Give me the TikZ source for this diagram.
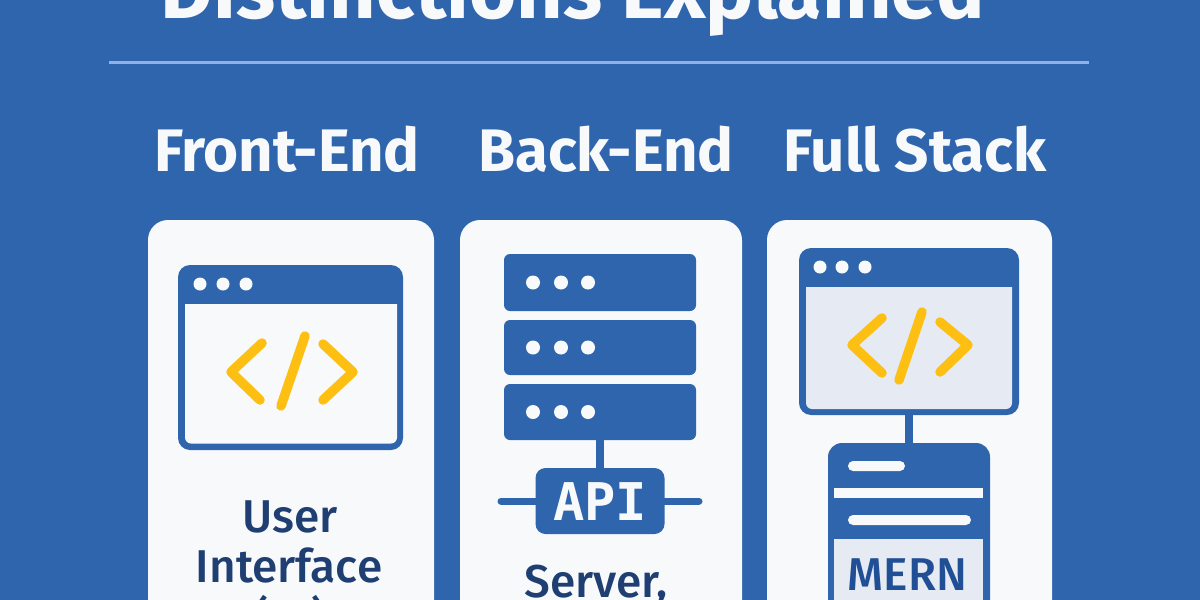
\documentclass[tikz,border=0pt]{standalone}
\usepackage{fontspec}
\usepackage{xcolor}
\setmainfont{Fira Sans}
\newfontfamily\apifont{DejaVu Sans Mono}
\newfontfamily\cardfont{Fira Sans Medium}
\definecolor{pagebg}{HTML}{2F65AC}
\definecolor{cardbg}{HTML}{F8F9FA}
\definecolor{panebg}{HTML}{E6EAF2}
\definecolor{rulebl}{HTML}{8FB2E6}
\definecolor{codeyl}{HTML}{FDBF12}
\definecolor{inkbl}{HTML}{1F3F73}
\definecolor{mernbl}{HTML}{214F96}
\tikzset{
  x=1pt,y=-1pt,
  cardbox/.style={fill=cardbg,rounded corners=20pt,inner sep=0pt,minimum height=420pt},
  bluebox/.style={fill=pagebg,inner sep=0pt,outer sep=0pt},
  dotnode/.style={circle,fill=cardbg,inner sep=0pt},
  codeline/.style={draw=codeyl,line width=9.5pt,line cap=round,line join=round},
  wire/.style={draw=pagebg,line width=8pt},
  pill/.style={fill=cardbg,rounded corners=5pt,inner sep=0pt,minimum height=10pt},
  headtext/.style={text=cardbg,anchor=base,inner sep=0pt,font=\fontsize{60}{60}\selectfont\bfseries},
  cardtext/.style={text=inkbl,anchor=base,inner sep=0pt,font=\cardfont\fontsize{46}{46}\selectfont},
}
\begin{document}
\begin{tikzpicture}
\useasboundingbox (0,0) rectangle (1200,600);
\clip (0,0) rectangle (1200,600);
\fill[pagebg] (0,0) rectangle (1200,600);
\node[text=cardbg,anchor=base,inner sep=0pt,font=\fontsize{81}{81}\selectfont\bfseries] (title) at (573,18) {Distinctions Explained};
\coordinate (ruleL) at (109,62);
\coordinate (ruleR) at (1089,62);
\draw[rulebl,line width=3pt] (ruleL) -- (ruleR);
%%
\node[headtext] (front) at (287,171) {Front-End};
\node[headtext] (back) at (606,171) {Back-End};
\node[headtext] (full) at (915,171) {Full Stack};
%%
\node[cardbox,minimum width=286pt] (card1) at (291,430) {};
\node[cardbox,minimum width=282pt] (card2) at (601,430) {};
\node[cardbox,minimum width=285pt] (card3) at (909.5,430) {};
%% front-end window
\node[bluebox,rounded corners=12pt,minimum width=225pt,minimum height=185pt] (win1) at (290.5,357.5) {};
\fill[cardbg] (185,304) -- (397,304) [rounded corners=6pt] -- (397,443.5) -- (185,443.5) [sharp corners] -- cycle;
\foreach \i/\dx in {1/200,2/223,3/246} {
  \node[dotnode,minimum size=13pt] (win1dot\i) at (\dx,284) {};
}
\draw[codeline] (262,343) -- (231,372) -- (260,400);
\draw[codeline] (305,336) -- (281,406);
\draw[codeline] (323,344) -- (353,372) -- (323,400);
\node[cardtext] (user) at (290,532) {User};
\node[cardtext] (iface) at (289,582) {Interface};
\node[cardtext] (ui) at (290,634) {(UI)};
%% back-end servers
\foreach \i/\sy/\sh in {1/282.5/57,2/347.5/55,3/412/56} {
  \node[bluebox,rounded corners=6pt,minimum width=192pt,minimum height=\sh pt] (srv\i) at (600,\sy) {};
  \foreach \j/\dx in {1/533,2/561,3/588} {
    \node[dotnode,minimum size=14pt] (srv\i dot\j) at (\dx,\sy) {};
  }
}
\node[bluebox,rounded corners=10pt,minimum width=129pt,minimum height=66pt] (api) at (600,501) {};
\draw[wire] (srv3.south) -- (api.north);
\coordinate (apiL) at (501,501);
\coordinate (apiR) at (699,501);
\draw[wire,line width=7pt,line cap=round] (api.west) -- (apiL);
\draw[wire,line width=7pt,line cap=round] (api.east) -- (apiR);
\node[text=cardbg,anchor=base,inner sep=0pt,font=\apifont\fontsize{52}{52}\selectfont\bfseries] (apilabel) at (600,520) {API};
\node[cardtext] (server) at (596,597) {Server,};
%% full stack window
\node[bluebox,rounded corners=12pt,minimum width=220pt,minimum height=167pt] (win3) at (909,331.5) {};
\fill[panebg] (806,287) -- (1012,287) [rounded corners=6pt] -- (1012,409) -- (806,409) [sharp corners] -- cycle;
\foreach \i/\dx in {1/820,2/842,3/865} {
  \node[dotnode,minimum size=13pt] (win3dot\i) at (\dx,267) {};
}
\draw[codeline] (882,318) -- (852,345) -- (882,373);
\draw[codeline] (922,312) -- (899,380);
\draw[codeline] (940,322) -- (968,345) -- (940,372);
%% phone
\node[bluebox,rounded corners=14pt,minimum width=162pt,minimum height=197pt] (phone) at (909,541.5) {};
\draw[wire] (win3.south) -- (phone.north);
\node[pill,minimum width=57pt] (pill1) at (876.5,466) {};
\node[fill=cardbg,inner sep=0pt,minimum width=149pt,minimum height=10pt] (bar) at (908.5,493) {};
\node[pill,minimum width=123pt] (pill2) at (909.5,520) {};
\node[fill=panebg,inner sep=0pt,minimum width=149pt,minimum height=80pt] (pane) at (908.5,579) {};
\node[text=mernbl,anchor=base,inner sep=0pt,font=\cardfont\fontsize{46}{46}\selectfont] (mern) at (907.5,590) {MERN};
\end{tikzpicture}
\end{document}
